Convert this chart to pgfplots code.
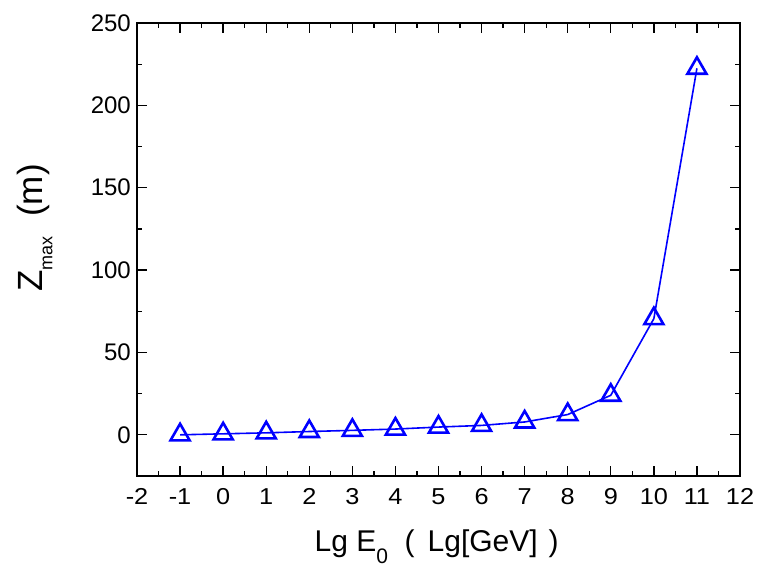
\documentclass[border=0pt]{standalone}
\usepackage{fontspec}
\setmainfont{Liberation Sans}
\newfontfamily\xtickfont[FakeStretch=1.1]{Liberation Sans}
\usepackage{pgfplots}
\pgfplotsset{compat=1.18}
\begin{document}
\begin{tikzpicture}
\begin{axis}[
  scale only axis, width=603pt, height=453pt,
  xmin=-2, xmax=12, ymin=-25, ymax=250,
  xtick={-2,-1,...,12}, ytick={0,50,...,250},
  minor x tick num=1, minor y tick num=1,
  tick align=inside, major tick length=10pt, minor tick length=5pt,
  tick style={black, line width=1.3pt},
  axis line style={line width=1.8pt},
  xticklabel style={font=\xtickfont\fontsize{23}{26}\selectfont, anchor=base, inner sep=0pt, yshift=-28.5pt},
  yticklabel style={font=\fontsize{24}{28}\selectfont, anchor=east, inner sep=0pt, xshift=-6pt},
  /pgf/number format/assume math mode=true,
  xlabel={Lg E\raisebox{-12pt}{\fontsize{21}{21}\selectfont 0}\ \ (\hspace{13pt}Lg[GeV]\hspace{11pt})},
  ylabel={Z\raisebox{-9.5pt}{\fontsize{18}{18}\selectfont max}\ \ (m)},
  xlabel style={font=\fontsize{30}{36}\selectfont, at={(axis description cs:0.497,-0.167)}, anchor=base, inner sep=0pt},
  ylabel style={font=\fontsize{35}{40}\selectfont, at={(axis description cs:-0.1559,0.5475)}, anchor=base, rotate=0, inner sep=0pt},
  clip=false,
]
\addplot[color={rgb,255:red,0;green,0;blue,255}, line width=1.6pt, mark=triangle, mark size=11pt,
  mark options={fill=white, line width=2.6pt}] coordinates {
(-1,0.0) (0,0.6) (1,1.2) (2,2.0) (3,2.7) (4,3.5) (5,4.7) (6,5.7) (7,7.8) (8,12.3) (9,24) (10,70.5) (11,222.5)
};
\end{axis}
\path (current axis.south west) ++(-137pt,-101pt) rectangle ++(757pt,577pt);
\end{tikzpicture}
\end{document}
